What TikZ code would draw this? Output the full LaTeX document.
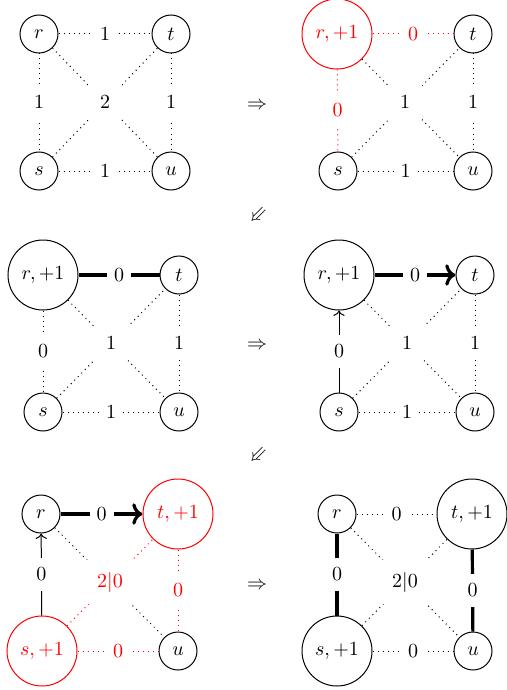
\documentclass[tikz,border=0pt]{standalone}
\usetikzlibrary{arrows.meta}
\definecolor{myred}{RGB}{255,0,0}
\begin{document}
\begin{tikzpicture}[x=0.5pt,y=-0.5pt,
  v/.style={circle,draw,line width=0.5pt,minimum size=19pt,inner sep=0pt},
  bigv/.style={circle,draw,line width=0.5pt,minimum size=35pt,inner sep=0pt},
  lbl/.style={fill=white,inner xsep=3.5pt,inner ysep=5pt},
  clbl/.style={fill=white,inner sep=6pt},
  dotedge/.style={dotted,line width=0.5pt},
  thk/.style={line width=1.6pt},
  thn/.style={line width=0.5pt},
  hl/.style={draw=myred,text=myred},
  rd/.style={myred}
]
\useasboundingbox (0,0) rectangle (507,690);
% ---------- Panel 1 ----------
\node[v] (a-r) at (39,34) {$r$};
\node[v] (a-t) at (171,34) {$t$};
\node[v] (a-s) at (39,171) {$s$};
\node[v] (a-u) at (171,171) {$u$};
\draw[dotedge] (a-r) -- (a-u);
\draw[dotedge] (a-s) -- (a-t);
\node[clbl] (a-c) at (105,102) {$2$};
\draw[dotedge] (a-r) -- node[lbl]{$1$} (a-t);
\draw[dotedge] (a-r) -- node[lbl]{$1$} (a-s);
\draw[dotedge] (a-t) -- node[lbl]{$1$} (a-u);
\draw[dotedge] (a-s) -- node[lbl]{$1$} (a-u);
% ---------- Panel 2 ----------
\node[bigv,hl] (b-r) at (337,34) {$r,+1$};
\node[v] (b-t) at (473,34) {$t$};
\node[v] (b-s) at (338,171) {$s$};
\node[v] (b-u) at (473,171) {$u$};
\draw[dotedge] (b-r) -- (b-u);
\draw[dotedge] (b-s) -- (b-t);
\node[clbl] (b-c) at (405,102) {$1$};
\draw[dotedge,rd] (b-r) -- node[lbl,text=myred]{$0$} (b-t);
\draw[dotedge,rd] (b-r) -- node[lbl,text=myred]{$0$} (b-s);
\draw[dotedge] (b-t) -- node[lbl]{$1$} (b-u);
\draw[dotedge] (b-s) -- node[lbl]{$1$} (b-u);
% ---------- Panel 3 ----------
\node[bigv] (c-r) at (43,275) {$r,+1$};
\node[v] (c-t) at (179,275) {$t$};
\node[v] (c-s) at (43,412) {$s$};
\node[v] (c-u) at (179,412) {$u$};
\draw[dotedge] (c-r) -- (c-u);
\draw[dotedge] (c-s) -- (c-t);
\node[clbl] (c-c) at (111,343) {$1$};
\draw[thk] (c-r) -- node[lbl]{$0$} (c-t);
\draw[dotedge] (c-r) -- node[lbl]{$0$} (c-s);
\draw[dotedge] (c-t) -- node[lbl]{$1$} (c-u);
\draw[dotedge] (c-s) -- node[lbl]{$1$} (c-u);
% ---------- Panel 4 ----------
\node[bigv] (d-r) at (339,275) {$r,+1$};
\node[v] (d-t) at (475,275) {$t$};
\node[v] (d-s) at (339,412) {$s$};
\node[v] (d-u) at (475,412) {$u$};
\draw[dotedge] (d-r) -- (d-u);
\draw[dotedge] (d-s) -- (d-t);
\node[clbl] (d-c) at (407,343) {$1$};
\draw[thk,->] (d-r) -- node[lbl]{$0$} (d-t);
\draw[thn,->] (d-s) -- node[lbl]{$0$} (d-r);
\draw[dotedge] (d-t) -- node[lbl]{$1$} (d-u);
\draw[dotedge] (d-s) -- node[lbl]{$1$} (d-u);
% ---------- Panel 5 ----------
\node[v] (e-r) at (41,514) {$r$};
\node[bigv,hl] (e-t) at (178,514) {$t,+1$};
\node[bigv,hl] (e-s) at (42,651) {$s,+1$};
\node[v] (e-u) at (178,651) {$u$};
\draw[dotedge] (e-r) -- (e-u);
\draw[dotedge,rd] (e-s) -- (e-t);
\node[clbl,text=myred] (e-c) at (110,582) {$2|0$};
\draw[thk,->] (e-r) -- node[lbl]{$0$} (e-t);
\draw[thn,->] (e-s) -- node[lbl]{$0$} (e-r);
\draw[dotedge,rd] (e-t) -- node[lbl,text=myred]{$0$} (e-u);
\draw[dotedge,rd] (e-s) -- node[lbl,text=myred]{$0$} (e-u);
% ---------- Panel 6 ----------
\node[v] (f-r) at (337,514) {$r$};
\node[bigv] (f-t) at (472,514) {$t,+1$};
\node[bigv] (f-s) at (337,651) {$s,+1$};
\node[v] (f-u) at (473,651) {$u$};
\draw[dotedge] (f-r) -- (f-u);
\draw[dotedge] (f-s) -- (f-t);
\node[clbl] (f-c) at (405,582) {$2|0$};
\draw[dotedge] (f-r) -- node[lbl]{$0$} (f-t);
\draw[thk] (f-r) -- node[lbl]{$0$} (f-s);
\draw[thk] (f-t) -- node[lbl]{$0$} (f-u);
\draw[dotedge] (f-s) -- node[lbl]{$0$} (f-u);
% ---------- Transition arrows ----------
\node (imp1) at (257,106) {$\Rightarrow$};
\node (imp2) at (257,346) {$\Rightarrow$};
\node (imp3) at (257,586) {$\Rightarrow$};
\node[rotate=225] (dn1) at (257,214) {$\Rightarrow$};
\node[rotate=225] (dn2) at (257,454) {$\Rightarrow$};
\end{tikzpicture}
\end{document}
